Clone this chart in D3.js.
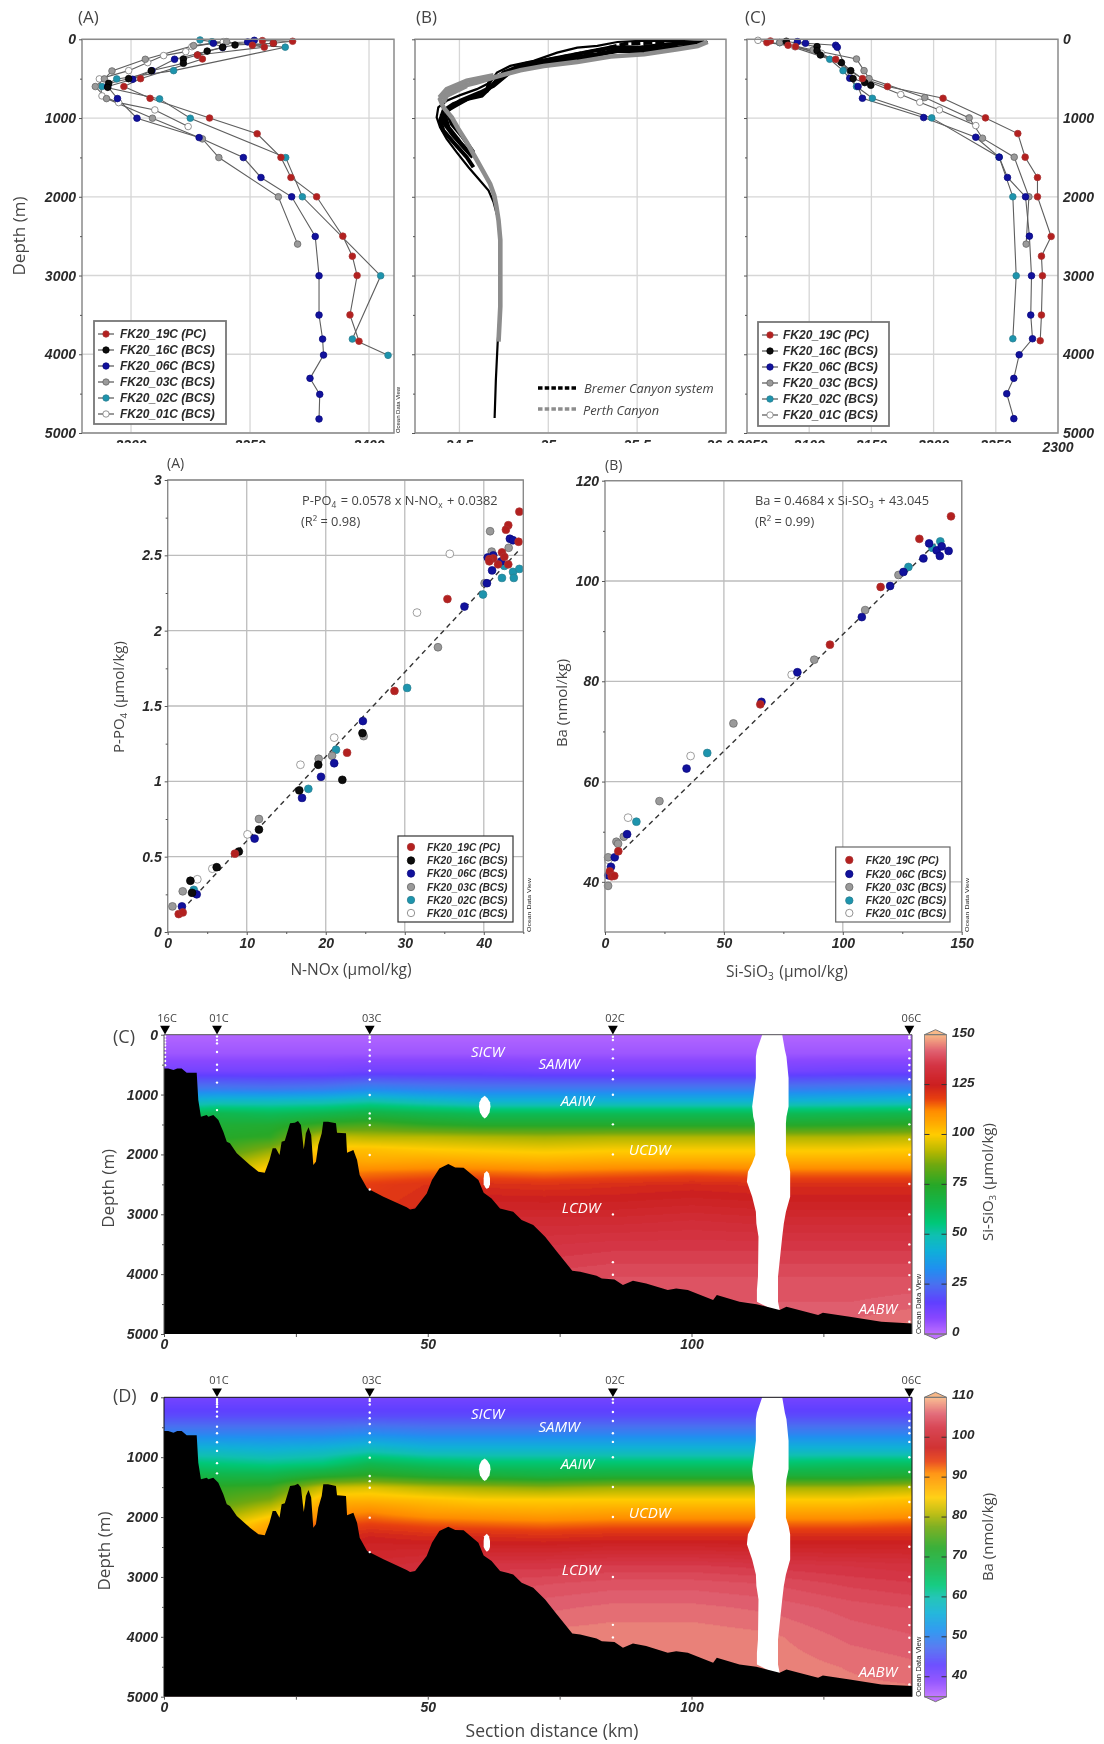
<!DOCTYPE html>
<html>
<head>
<meta charset="utf-8">
<style>
  html, body { margin: 0; padding: 0; background: #fff; }
  svg { display: block; filter: blur(0.45px); }
  .num { font-family: "Liberation Sans", Arial, sans-serif; font-weight: bold; font-style: italic; fill: #2a2a2a; }
  .lab { font-family: "Open Sans", sans-serif; fill: #444; }
  .wm { font-family: "Open Sans", sans-serif; font-style: italic; fill: #fff; font-size: 15px; }
  .odv { font-family: "Liberation Sans", Arial, sans-serif; fill: #222; }
</style>
<script src="https://cdn.jsdelivr.net/npm/d3@7"></script>
</head>
<body>
<div id="chart"></div>
<script>
// series names and colours shared by the legends
const seriesNames = ["FK20_19C (PC)", "FK20_16C (BCS)", "FK20_06C (BCS)", "FK20_03C (BCS)", "FK20_02C (BCS)", "FK20_01C (BCS)"];
const seriesFill = ["#b3201f", "#0c0c0c", "#11119c", "#9a9a9a", "#1d94ad", "#ffffff"];
const seriesEdge = ["#a33", "#000", "#0a0a80", "#666", "#2b7f90", "#777"];

// top left profile, [value, depth]
const a19C = [[2355.2,17],[2367.9,25],[2359.8,50],[2351,75],[2356,100],[2327.9,200],[2330,250],[2304,500],[2297,600],[2308,750],[2333,1000],[2353,1200],[2363,1500],[2367.2,1755],[2378,2000],[2389,2500],[2393,2755],[2395,3000],[2392,3500],[2395.8,3835]];
const a16C = [[2359.8,50],[2343.7,72],[2338.5,100],[2332,150],[2328,200],[2322,250],[2322,305],[2308.5,400],[2299,500],[2290.6,560],[2290.2,610]];
const a06C = [[2351.8,13],[2349,34],[2334.6,50],[2338.5,105],[2318.3,254],[2308.8,398],[2300.7,508],[2290.2,600],[2294.3,753],[2302.5,1002],[2328.6,1248],[2347.2,1502],[2354.6,1755],[2367.5,2000],[2377.4,2504],[2379,3003],[2379,3502],[2380.5,3807],[2380.9,4010],[2375.2,4306],[2379.3,4509],[2379,4822]];
const a03C = [[2340.2,30],[2326.3,80],[2306,254],[2292,402],[2288.8,503],[2285,600],[2289.7,753],[2309,1002],[2330,1265],[2336.9,1502],[2361.9,2000],[2370,2601]];
const a02C = [[2329,8],[2334,30],[2364.8,100],[2317.9,398],[2294,503],[2287.8,600],[2312,757],[2324.9,1002],[2365,1502],[2372,2000],[2404.9,3003],[2393,3807],[2408,4014]];
const a01C = [[2338.8,30],[2325.6,93],[2323,157],[2313.7,207],[2307,296],[2299,398],[2286.7,503],[2287.8,719],[2294.8,804],[2310,897],[2324,1108]];

// top right profile, [value, depth]
const c19C = [[2068.8,21],[2066,42],[2083,76],[2089,93],[2121.3,254],[2142.8,499],[2162.9,600],[2207.6,749],[2241.7,998],[2267.7,1197],[2273.6,1497],[2283.5,1755],[2283.5,2000],[2294.5,2504],[2286.7,2754],[2287.5,3003],[2286.7,3502],[2285.7,3828]];
const c16C = [[2081.6,25],[2106.3,93],[2106.3,144],[2109,199],[2125.9,296],[2133.4,398],[2135.3,499],[2144.6,550],[2149.5,584]];
const c06C = [[2090.5,30],[2097,50],[2121.3,76],[2122.6,101],[2132.6,495],[2139.3,600],[2142.8,749],[2192,994],[2233.9,1244],[2252.7,1497],[2259.4,1755],[2273.9,2000],[2277,2500],[2278.7,3003],[2278.1,3502],[2279.5,3803],[2268.8,4006],[2264.5,4306],[2258.8,4501],[2264.5,4818]];
const c03C = [[2076.3,42],[2103.1,135],[2138,250],[2144.1,398],[2148.1,499],[2192.9,740],[2228.6,998],[2239.3,1256],[2264.8,1497],[2276.6,2000],[2274.4,2601]];
const c02C = [[2076.3,42],[2116.5,254],[2127.2,398],[2138,600],[2150.8,749],[2198.5,998],[2252.7,1497],[2263.7,2000],[2266.4,3003],[2263.7,3803]];
const c01C = [[2058.8,13],[2088.3,93],[2109.8,178],[2144.6,516],[2173.6,702],[2188.9,799],[2204.7,897],[2233.9,1096]];

// middle profile: grey Perth Canyon, black Bremer Canyon bundle, [value, depth]
const bGray = [[35.897,34],[35.841,84],[35.728,127],[35.54,190],[35.351,219],[35.163,287],[34.975,338],[34.843,392],[34.692,485],[34.598,549],[34.485,612],[34.41,696],[34.391,760],[34.41,865],[34.457,992],[34.494,1139],[34.541,1308],[34.589,1498],[34.636,1688],[34.673,1836],[34.696,1983],[34.707,2110],[34.72,2300],[34.73,2548],[34.73,3013],[34.73,3394],[34.72,3840]];
const bGray2 = [[34.692,456],[34.541,527],[34.428,633],[34.387,739]];
const bGray3 = [[34.541,591],[34.428,717],[34.41,802]];
const bBlack1 = [[35.897,34],[35.728,21],[35.54,17],[35.389,34],[35.276,84],[35.163,105],[35.05,169],[34.918,274],[34.786,338],[34.711,422],[34.673,549],[34.598,633],[34.504,709],[34.428,781],[34.381,865],[34.372,992],[34.391,1118],[34.428,1266],[34.485,1435],[34.551,1625],[34.607,1772],[34.664,1920],[34.692,2068],[34.72,2300],[34.73,2548],[34.73,3013],[34.73,3394],[34.715,3860],[34.705,4326],[34.698,4810]];
const bBlack2 = [[35.879,42],[35.671,63],[35.521,105],[35.351,105],[35.201,169],[35.012,253],[34.862,317],[34.749,422],[34.664,633],[34.626,717],[34.541,760],[34.466,823],[34.41,907],[34.391,1034],[34.41,1160],[34.466,1308],[34.541,1498],[34.579,1625]];
const bBlack3 = [[35.822,84],[35.634,127],[35.445,105],[35.276,190],[35.106,245],[34.937,317],[34.786,414],[34.692,591],[34.617,675],[34.504,781],[34.447,865],[34.419,971],[34.438,1118],[34.504,1308],[34.57,1477]];
const bBlack4 = [[35.728,84],[35.54,148],[35.389,148],[35.201,232],[35.012,295],[34.843,359],[34.673,506],[34.654,654],[34.56,739],[34.476,844],[34.428,907],[34.457,1076],[34.513,1224],[34.579,1435]];
const bBlack5 = [[35.653,42],[35.445,51],[35.314,127],[35.163,190],[34.975,274]];
const bBlack6 = [[34.4,949],[34.41,1055],[34.466,1224],[34.532,1393],[34.575,1498]];

// scatter A, [NOx, PO4]
const s19C = [[1.39,.119],[1.9,.13],[8.5,.52],[22.7,1.19],[28.7,1.6],[35.4,2.21],[44.5,2.79],[44.4,2.59],[43.1,2.7],[42.8,2.67],[42.3,2.52],[42.6,2.49],[43.1,2.44],[41.8,2.44],[41.2,2.48],[40.7,2.475],[40.7,2.46]];
const s16C = [[2.87,.34],[3.08,.26],[6.2,.43],[9,.534],[11.55,.68],[16.65,.94],[19.05,1.11],[22.1,1.01],[24.65,1.32]];
const s06C = [[1.8,.17],[3.67,.25],[11,.62],[17,.89],[19.4,1.03],[21.07,1.12],[24.7,1.4],[37.55,2.16],[40.4,2.315],[41.05,2.4],[41.2,2.5],[40.5,2.486],[42.2,2.46],[43.3,2.61],[43.7,2.6]];
const s03C = [[.6,.17],[1.9,.27],[11.55,.75],[19.1,1.15],[20.8,1.17],[24.8,1.3],[34.2,1.89],[40.1,2.315],[40.8,2.66],[41,2.525],[43.15,2.55]];
const s02C = [[3.3,.28],[17.8,.95],[21.3,1.21],[30.3,1.62],[39.9,2.24],[42.3,2.35],[42.6,2.43],[43.7,2.39],[43.8,2.35],[44.5,2.41]];
const s01C = [[3.75,.35],[5.65,.42],[10.1,.648],[16.8,1.11],[21.07,1.29],[31.55,2.12],[35.7,2.51]];
const sFit = [[2.6,.19],[44.3,2.525]];

// scatter B, [Si, Ba]
const t19C = [[145.5,112.9],[132.2,108.4],[115.9,98.8],[94.6,87.3],[65.3,75.4],[5.6,46.1],[2,42.1],[2.8,41.1],[3.9,41.2]];
const t06C = [[65.8,75.9],[80.9,81.8],[34.3,62.6],[9.3,49.5],[4.1,44.9],[2.5,43],[119.9,99],[108,92.8],[125.5,101.8],[133.9,104.5],[136.3,107.5],[139.5,106.1],[141.6,106.9],[140.8,105],[144.5,106],[1.4,41.3]];
const t03C = [[1.3,39.2],[1.3,44.9],[4.8,48],[5.5,47.6],[7.9,49],[22.9,56.1],[54,71.6],[88,84.3],[109.4,94.2],[123.4,101.2]];
const t02C = [[13.2,52],[43,65.7],[127.6,102.8],[137.7,106.6],[141,107.9]];
const t01C = [[9.7,52.8],[36,65.1],[78.5,81.3],[1.4,44.4]];
const tFit = [[7.7,46.4],[139.5,107.7]];

// sections: field values on a depth x distance grid
const fieldKm = [0, 10, 20, 30, 39, 50, 60, 72, 85, 100, 115, 130, 142];
const fieldDepth = [0, 300, 600, 900, 1100, 1300, 1500, 1700, 1900, 2100, 2300, 2500, 2800, 3100, 3500, 4000, 4500, 5000];
const siField = [
  [2,2,2,2,2,2,2,2,2,2,2,2,2],
  [5,5,5,5,5,5,5,5,5,5,5,5,5],
  [12,12,12,12,13,13,13,12,12,12,12,13,13],
  [28,28,27,28,31,29,28,28,28,28,28,29,30],
  [43,46,46,47,50,46,43,43,43,43,43,44,45],
  [58,64,62,64,67,64,62,62,62,62,62,63,64],
  [68,71,72,78,80,76,74,74,74,74,74,75,76],
  [72,74,76,94,92,92,91,90,91,91,91,91,92],
  [76,78,87,102,102,100,99,98,99,99,99,99,100],
  [84,86,96,108,106,107,106,105,106,106,106,106,106],
  [90,92,104,112,114,115,115,114,115,116,115,115,115],
  [98,100,110,116,119,121,122,121,122,123,122,122,122],
  [110,112,116,118,120,122,126,126,126,127,126,126,126],
  [118,118,120,122,124,126,130,130,130,131,130,130,130],
  [125,125,126,127,128,130,133,134,135,135,135,135,135],
  [130,130,130,130,132,134,136,138,139,139,139,139,139],
  [132,132,132,132,134,136,138,140,141,141,141,141,142],
  [134,134,134,134,136,138,140,142,143,144,144,144,146]
];
const baField = [
  [41,41,41,41,41,41,41,41,41,41,41,41,41],
  [44,44,44,44,44,44,44,44,44,44,44,44,44],
  [50,50,50,50,51,50,50,50,50,50,50,50,50],
  [58,58,57,58,60,58,58,58,58,58,58,58,58],
  [64,63,62,63,67,65,64,64,64,64,64,65,65],
  [69,68,68,71,73,71,70,69,70,70,70,70,71],
  [72,73,74,82,83,81,80,79,80,80,80,80,81],
  [74,75,78,87,87,86,85,85,85,85,85,85,86],
  [76,78,83,90,91,89,88.5,88,88.5,88.5,88.5,88.5,89],
  [80,82,88,93,94,93,92.5,92,92.5,92.5,92.5,92.5,93],
  [86,88,90,95,97,96,96,95.5,96,96,96,96,96],
  [92,94,94,97,98.5,98.5,98.5,98.5,99,99,98.5,98.5,98.5],
  [98,98,98,99,100,101,102.5,102.5,103,103,102.5,102,101.5],
  [101,101,101,101,102,103,104,104.5,105,105,104.5,103.5,103],
  [103,103,103,103,104,105,105.5,106,106.5,106.5,106,105,104.5],
  [105,105,105,105,106,106.5,107,107.5,107.7,107.7,107.3,106,105.5],
  [106,106,106,106,106.5,107,107.5,107.7,107.8,107.8,107.7,107,106.5],
  [106,106,106,106,106.5,107,107.5,107.7,107.8,107.8,107.7,107.5,107.5]
];

// seafloor under both sections, distance km and depth m
const bottomKm = [0,.8,1.8,2.5,3.35,4.3,6.2,6.5,7,8.1,8.4,9.35,10.3,11.25,11.9,12.5,13.8,16.3,17.9,19.1,20,20.6,21.2,21.9,22.3,22.9,23.9,24.8,25.4,25.96,26.5,26.9,27.4,27.9,28.3,28.8,29.25,29.9,30.2,31.1,32.6,32.8,34.5,34.7,35.9,36.6,37.1,38.5,41.6,46,46.65,47.6,49.8,50.8,52.2,53.9,55.2,56.8,59.6,60.6,62.1,63.7,66.2,67.8,70,72.25,74.5,77.4,78.9,82,83,85.4,87,88.9,91.4,95.5,97.1,99.3,104.1,104.8,109.1,112.3,116.7,118,124,124.9,130,136,141.8];
const bottomDepth = [563,563,590,563,563,635,635,1092,1370,1342,1370,1342,1426,1621,1788,1815,1982,2177,2288,2305,2093,1898,1898,2010,1787,1770,1480,1470,1442,1508,1915,1647,1547,1675,2177,2122,1843,1647,1453,1453,1480,1637,1647,1971,1926,2093,2344,2566,2706,2883,2919,2902,2651,2429,2234,2161,2217,2222,2429,2640,2735,2902,2958,3097,3180,3375,3626,3944,3960,4027,4072,4088,4183,4111,4155,4267,4239,4267,4434,4350,4462,4501,4601,4545,4684,4645,4712,4796,4823];

// no-data gaps in the interpolated field
const gapDepth = [0,256,367,725,1003,1198,1370,1481,2010,2150,2289,2456,2707,2958,3153,3375,4044,4267,4462,4640];
const gapLeft = [113.4,112.4,112.2,112.2,111.8,111.5,111.7,112,112.1,111.5,110.7,110.5,111.5,112.2,112.3,112.7,112.6,112.4,112.4,116.4];
const gapRight = [117.2,117.7,118,118.4,118.4,118.4,118,117.9,117.9,118.4,118.7,118.7,118.7,117.9,117.5,117.2,116.4,116.4,116.4,116.8];
const blobADepth = [1020,1060,1130,1200,1300,1370,1398];
const blobALeft = [60.8,60.2,59.8,59.7,59.9,60.4,60.8];
const blobARight = [60.8,61.3,61.8,61.9,61.7,61.2,60.8];
const blobBDepth = [2278,2320,2400,2500,2550,2579];
const blobBLeft = [61.2,60.7,60.6,60.6,60.9,61.2];
const blobBRight = [61.2,61.6,61.8,61.8,61.6,61.2];

// station sampling depths
const stationNames = ["16C", "01C", "03C", "02C", "06C"];
const stationKm = [0.2, 10.05, 39, 85.1, 141.3];
const st16C = [30,80,130,180,240,300,370,440,510];
const st01C = [30,90,145,290,500,590,800,1260];
const st01CBa = [30,60,90,120,160,240,320,490,600,750,895,1100,1270];
const st03C = [30,60,120,255,350,445,600,750,1008,1315,1400,1510,2010,2585];
const st02C = [33,89,245,395,600,745,1002,1498,2000,3002,3800,4010];
const st06C = [30,60,255,395,505,600,745,1002,1248,1498,1749,2005,2495,3002,3503,3804,4016,4255,4500,4795];

// water mass labels, distance km and depth m
const waterNames = ["SICW", "SAMW", "AAIW", "UCDW", "LCDW", "AABW"];
const waterKm = [58.2, 71, 75.2, 88.1, 75.4, 131.7];
const waterDepth = [367, 573, 1191, 2015, 2974, 4666];

// colour map, position along the colour bar (0-1) and colour
const cmapPos = [0,.053,.107,.167,.22,.28,.333,.373,.427,.5,.567,.613,.667,.707,.747,.787,.833,.9,.947,1];
const cmapCol = ["#c070ff","#8a48ff","#6040ff","#4a70f0","#2090f0","#10b0d8","#10c0b0","#00c878","#10b850","#28a828","#70a810","#b8b800","#ffcc00","#ffaa00","#ff8c00","#e84010","#cc2020","#d43545","#e06070","#f8b888"];

const depthTicks = [0, 1000, 2000, 3000, 4000, 5000];
const depthMinor = [500, 1500, 2500, 3500, 4500];

const svg = d3.select("#chart").append("svg").attr("width", 1104).attr("height", 1744);
const cmap = d3.scaleLinear().domain(cmapPos).range(cmapCol).interpolate(d3.interpolateRgb);

function text(cls, x, y, str, size, rotate) {
  const t = svg.append("text").attr("class", cls).attr("font-size", size).text(str);
  if (rotate) t.attr("transform", `translate(${x},${y}) rotate(-90)`).attr("text-anchor", "middle");
  else t.attr("x", x).attr("y", y);
  return t;
}

// label with a subscript part, e.g. P-PO4
function subText(cls, x, y, parts, size, rotate) {
  const t = svg.append("text").attr("class", cls).attr("font-size", size);
  if (rotate) t.attr("transform", `translate(${x},${y}) rotate(-90)`).attr("text-anchor", "middle");
  else t.attr("x", x).attr("y", y);
  parts.forEach(function (p) {
    if (p.sub) {
      t.append("tspan").attr("font-size", size * 0.65).attr("dy", size * 0.2).text(p.sub);
      t.append("tspan").attr("dy", -size * 0.2).text("\u200a");
    } else {
      t.append("tspan").text(p.t);
    }
  });
  return t;
}

function odv(x, y, size, len) {
  text("odv", x, y, "Ocean Data View", size, true).attr("textLength", len).attr("lengthAdjust", "spacingAndGlyphs");
}

function frameGrid(x, y, xTicks, yTicks, gridCol) {
  const g = svg.append("g");
  g.selectAll(".gx").data(xTicks).join("line")
    .attr("x1", d => x(d)).attr("x2", d => x(d))
    .attr("y1", y.range()[0]).attr("y2", y.range()[1])
    .attr("stroke", gridCol).attr("stroke-width", 1.3);
  g.selectAll(".gy").data(yTicks).join("line")
    .attr("x1", x.range()[0]).attr("x2", x.range()[1])
    .attr("y1", d => y(d)).attr("y2", d => y(d))
    .attr("stroke", gridCol).attr("stroke-width", 1.3);
}

function frameBox(x, y, col, w) {
  svg.append("rect")
    .attr("x", x.range()[0]).attr("width", x.range()[1] - x.range()[0])
    .attr("y", Math.min(y.range()[0], y.range()[1])).attr("height", Math.abs(y.range()[1] - y.range()[0]))
    .attr("fill", "none").attr("stroke", col).attr("stroke-width", w);
}

function styleAxis(g, size) {
  g.select(".domain").remove();
  g.selectAll(".tick line").attr("stroke", "#555");
  g.selectAll(".tick text").attr("class", "num").attr("font-size", size).attr("fill", null);
  return g;
}

function legendBox(x0, y0, w, h, rows, rowYs, markerX, textX, lineHalf, size, edge) {
  svg.append("rect").attr("x", x0).attr("y", y0).attr("width", w).attr("height", h)
    .attr("fill", "#fff").attr("stroke", edge).attr("stroke-width", lineHalf ? 1.8 : 1.2);
  rows.forEach(function (r, i) {
    if (lineHalf) {
      svg.append("line").attr("x1", markerX - lineHalf).attr("x2", markerX + lineHalf)
        .attr("y1", rowYs[i]).attr("y2", rowYs[i]).attr("stroke", "#555").attr("stroke-width", 1.2);
    }
    svg.append("circle").attr("cx", markerX).attr("cy", rowYs[i]).attr("r", lineHalf ? 3.2 : 3.7)
      .attr("fill", seriesFill[r]).attr("stroke", seriesEdge[r]).attr("stroke-width", 0.8);
    text("num", textX, rowYs[i] + size * 0.36, seriesNames[r], size).attr("fill", "#333");
  });
}

svg.append("clipPath").attr("id", "cutLabels").append("rect")
  .attr("x", 0).attr("width", 1104).attr("y", 434).attr("height", 9);

// one depth profile panel, lines and dots
function profilePanel(x, y, series, xTicks, xLabels, rightAxis, cutLast) {
  frameGrid(x, y, xTicks, depthTicks, "#d6d6d6");
  const x0 = x.range()[0], x1 = x.range()[1];
  const lineGen = d3.line().x(d => x(d[0])).y(d => y(d[1]));

  // draw last series first so red sits on top
  d3.range(series.length - 1, -1, -1).forEach(function (i) {
    svg.append("path").datum(series[i]).attr("d", lineGen).attr("fill", "none").attr("stroke", "#5e5e5e").attr("stroke-width", 1.1);
  });
  d3.range(series.length - 1, -1, -1).forEach(function (i) {
    svg.append("g").selectAll("circle").data(series[i]).join("circle")
      .attr("cx", d => x(d[0])).attr("cy", d => y(d[1])).attr("r", 3.3)
      .attr("fill", seriesFill[i]).attr("stroke", seriesEdge[i]).attr("stroke-width", 0.8);
  });
  frameBox(x, y, "#8a8a8a", 1.5);
  depthAxes(x0, x1, y, rightAxis);
  xCutLabels(x, xLabels, cutLast);
}

function depthAxes(x0, x1, y, rightAxis) {
  const major = svg.append("g").attr("transform", `translate(${x0},0)`)
    .call(d3.axisLeft(y).tickValues(depthTicks).tickSize(3).tickPadding(3).tickFormat(rightAxis === false ? d => d : ""));
  styleAxis(major, 14);
  svg.append("g").attr("transform", `translate(${x0},0)`)
    .call(d3.axisLeft(y).tickValues(depthMinor).tickSize(2).tickFormat(""))
    .call(g => styleAxis(g, 14));
  if (rightAxis) {
    const r = svg.append("g").attr("transform", `translate(${x1},0)`)
      .call(d3.axisRight(y).tickValues(depthTicks).tickSize(0).tickPadding(5).tickFormat(d => d));
    styleAxis(r, 14);
  }
}

// the x labels of the top row are cut off by the row below in the source
function xCutLabels(x, labels, cutLast) {
  labels.forEach(function (l, i) {
    const last = i === labels.length - 1;
    const t = text("num", x(l.v) + (l.dx || 0), cutLast && last ? 452 : 450, l.s, 14).attr("text-anchor", "middle");
    if (!(cutLast && last)) t.attr("clip-path", "url(#cutLabels)");
  });
}

const yA = d3.scaleLinear().domain([0, 5000]).range([39.3, 433]);

// panel A
const xA = d3.scaleLinear().domain([2279.4, 2410.5]).range([82, 394]);
profilePanel(xA, yA, [a19C, a16C, a06C, a03C, a02C, a01C], [2300, 2350, 2400],
  [{ v: 2300, s: "2300" }, { v: 2350, s: "2350" }, { v: 2400, s: "2400" }], false, false);
legendBox(94, 321, 132, 103, [0, 1, 2, 3, 4, 5], [334, 350, 366, 382, 398, 414], 106, 120, 8, 12, "#777");
text("lab", 78, 23, "(A)", 17);
text("lab", 25, 236, "Depth (m)", 17, true);
odv(400, 410, 5, 46);

// panel B: black bundle then a thick grey profile
const xB = d3.scaleLinear().domain([34.25, 36]).range([415, 726]);
frameGrid(xB, yA, [34.5, 35, 35.5], depthTicks, "#d6d6d6");
const lineB = d3.line().x(d => xB(d[0])).y(d => yA(d[1]));
[bBlack2, bBlack3, bBlack4, bBlack5, bBlack6].forEach(function (s, i) {
  svg.append("path").datum(s).attr("d", lineB).attr("fill", "none").attr("stroke", "#000")
    .attr("stroke-width", 4).attr("stroke-dasharray", i === 3 ? "9 3" : null);
});
svg.append("path").datum(bBlack1).attr("d", lineB).attr("fill", "none").attr("stroke", "#000").attr("stroke-width", 2.2);
[bGray, bGray2, bGray3].forEach(function (s) {
  svg.append("path").datum(s).attr("d", lineB).attr("fill", "none").attr("stroke", "#8d8d8d").attr("stroke-width", 4.6);
});
frameBox(xB, yA, "#8a8a8a", 1.5);
depthAxes(415, 726, yA, null);
xCutLabels(xB, [{ v: 34.5, s: "34.5" }, { v: 35, s: "35" }, { v: 35.5, s: "35.5" }, { v: 36, s: "36.0", dx: -6 }], false);
svg.append("line").attr("x1", 538).attr("x2", 578).attr("y1", 388).attr("y2", 388)
  .attr("stroke", "#000").attr("stroke-width", 3.5).attr("stroke-dasharray", "4.5 2.2");
svg.append("line").attr("x1", 538).attr("x2", 578).attr("y1", 409).attr("y2", 409)
  .attr("stroke", "#8d8d8d").attr("stroke-width", 3.5).attr("stroke-dasharray", "4.5 2.2");
text("lab", 584, 392.5, "Bremer Canyon system", 12.8).style("font-style", "italic");
text("lab", 583, 414.5, "Perth Canyon", 12.8).style("font-style", "italic");
text("lab", 416, 23, "(B)", 17);

// panel C
const xC = d3.scaleLinear().domain([2050, 2300]).range([747, 1058]);
profilePanel(xC, yA, [c19C, c16C, c06C, c03C, c02C, c01C], [2100, 2150, 2200, 2250],
  [{ v: 2050, s: "2050", dx: 5 }, { v: 2100, s: "2100" }, { v: 2150, s: "2150" }, { v: 2200, s: "2200" }, { v: 2250, s: "2250" }, { v: 2300, s: "2300" }], true, true);
legendBox(758, 322, 131, 104, [0, 1, 2, 3, 4, 5], [335, 351, 367, 383, 399, 415], 770, 783, 8, 12, "#777");
text("lab", 745, 23, "(C)", 17);

// one scatter panel
function scatterPanel(x, y, series, ids, fit, xTicks, xMinor, yTicks, yMinor) {
  frameGrid(x, y, xTicks, yTicks, "#bdbdbd");
  svg.append("line")
    .attr("x1", x(fit[0][0])).attr("y1", y(fit[0][1]))
    .attr("x2", x(fit[1][0])).attr("y2", y(fit[1][1]))
    .attr("stroke", "#333").attr("stroke-width", 1.4).attr("stroke-dasharray", "5 4");
  d3.range(series.length - 1, -1, -1).forEach(function (i) {
    svg.append("g").selectAll("circle").data(series[i]).join("circle")
      .attr("cx", d => x(d[0])).attr("cy", d => y(d[1])).attr("r", 3.9)
      .attr("fill", seriesFill[ids[i]]).attr("stroke", seriesEdge[ids[i]]).attr("stroke-width", 0.7);
  });
  frameBox(x, y, "#8a8a8a", 1.4);
  const bottom = y.range()[0], left = x.range()[0];
  styleAxis(svg.append("g").attr("transform", `translate(0,${bottom})`)
    .call(d3.axisBottom(x).tickValues(xTicks.concat(x.domain()[0])).tickSize(3).tickPadding(3).tickFormat(d => d)), 14);
  styleAxis(svg.append("g").attr("transform", `translate(0,${bottom})`)
    .call(d3.axisBottom(x).tickValues(xMinor).tickSize(2).tickFormat("")), 14);
  styleAxis(svg.append("g").attr("transform", `translate(${left},0)`)
    .call(d3.axisLeft(y).tickValues(yTicks).tickSize(3).tickPadding(3).tickFormat(d => d)), 14);
  styleAxis(svg.append("g").attr("transform", `translate(${left},0)`)
    .call(d3.axisLeft(y).tickValues(yMinor).tickSize(2).tickFormat("")), 14);
}

const xSA = d3.scaleLinear().domain([0, 45]).range([167.7, 523.3]);
const ySA = d3.scaleLinear().domain([0, 3]).range([932, 480]);
scatterPanel(xSA, ySA, [s19C, s16C, s06C, s03C, s02C, s01C], [0, 1, 2, 3, 4, 5], sFit,
  [10, 20, 30, 40], [5, 15, 25, 35, 45], [0, 0.5, 1, 1.5, 2, 2.5, 3], [0.25, 0.75, 1.25, 1.75, 2.25, 2.75]);
legendBox(398, 836, 115, 86, [0, 1, 2, 3, 4, 5], [847, 860.5, 873.5, 887, 900, 913], 411, 427, 0, 10.2, "#333");
text("lab", 167, 468, "(A)", 14);
subText("lab", 302, 505, [{ t: "P-PO" }, { sub: "4" }, { t: " = 0.0578 x N-NO" }, { sub: "x" }, { t: " + 0.0382" }], 12.8);
text("lab", 301, 526, "(R\u00b2 = 0.98)", 12.8);
text("lab", 351, 975, "N-NOx (\u00b5mol/kg)", 15.5).attr("text-anchor", "middle");
subText("lab", 124, 697, [{ t: "P-PO" }, { sub: "4" }, { t: " (\u00b5mol/kg)" }], 15, true);
odv(531, 905, 4.5, 54);

const xSB = d3.scaleLinear().domain([0, 150]).range([605, 961.7]);
const ySB = d3.scaleLinear().domain([30, 120]).range([932, 480.7]);
scatterPanel(xSB, ySB, [t19C, t06C, t03C, t02C, t01C], [0, 2, 3, 4, 5], tFit,
  [50, 100, 150], [25, 75, 125], [40, 60, 80, 100, 120], [50, 70, 90, 110]);
legendBox(835.7, 847, 114.3, 75, [0, 2, 3, 4, 5], [860, 874, 887, 900.5, 913], 849.3, 865.7, 0, 10.2, "#666");
text("lab", 605, 470, "(B)", 14);
subText("lab", 755, 505, [{ t: "Ba = 0.4684 x Si-SO" }, { sub: "3" }, { t: " + 43.045" }], 12.8);
text("lab", 755, 526, "(R\u00b2 = 0.99)", 12.8);
subText("lab", 787, 977, [{ t: "Si-SiO" }, { sub: "3" }, { t: " (\u00b5mol/kg)" }], 15.5).attr("text-anchor", "middle");
text("lab", 567, 703, "Ba (nmol/kg)", 15, true);
odv(969, 905, 4.5, 54);

// section panel: field drawn to a canvas, then seafloor and gaps on top
function sectionPanel(top, bottom, field, vMin, vMax, stations, barTicks, barTitle, label, labelY, depthX, rightEdge) {
  const x = d3.scaleLinear().domain([0, 141.8]).range([164, 912]);
  const y = d3.scaleLinear().domain([0, 5000]).range([top, bottom]);
  const w = 748, h = Math.round(bottom - top);
  const canvas = document.createElement("canvas");
  canvas.width = w;
  canvas.height = h;
  const ctx = canvas.getContext("2d");
  const colIndex = d3.scaleLinear().domain(fieldKm).range(d3.range(fieldKm.length)).clamp(true);
  const rowIndex = d3.scaleLinear().domain(fieldDepth).range(d3.range(fieldDepth.length)).clamp(true);
  const tColour = d3.scaleLinear().domain([vMin, vMax]).range([0, 1]).clamp(true);
  for (let py = 0; py < h; py++) {
    const rf = rowIndex(y.invert(top + py));
    const r0 = Math.min(Math.floor(rf), fieldDepth.length - 2), fr = rf - r0;
    for (let px = 0; px < w; px++) {
      const cf = colIndex(x.invert(164 + px));
      const c0 = Math.min(Math.floor(cf), fieldKm.length - 2), fc = cf - c0;
      const v = (field[r0][c0] * (1 - fc) + field[r0][c0 + 1] * fc) * (1 - fr)
        + (field[r0 + 1][c0] * (1 - fc) + field[r0 + 1][c0 + 1] * fc) * fr;
      // ODV shows steps in the slow end of the colour bar
      let t = tColour(v);
      if (t > 0.8) t = Math.round(t * 90) / 90;
      ctx.fillStyle = cmap(t);
      ctx.fillRect(px, py, 1, 1);
    }
  }
  svg.append("image").attr("x", 164).attr("y", top).attr("width", w).attr("height", h)
    .attr("href", canvas.toDataURL());

  const gapArea = d3.area().y(d => y(d[0])).x0(d => x(d[1])).x1(d => x(d[2]));
  [[gapDepth, gapLeft, gapRight], [blobADepth, blobALeft, blobARight], [blobBDepth, blobBLeft, blobBRight]].forEach(function (g) {
    svg.append("path").datum(g[0].map((d, i) => [d, g[1][i], g[2][i]])).attr("d", gapArea).attr("fill", "#fff");
  });

  const bottomArea = d3.area().x((d, i) => x(bottomKm[i])).y0(y(5000)).y1(d => y(d));
  svg.append("path").datum(bottomDepth).attr("d", bottomArea).attr("fill", "#000");

  // sampling dots and station triangles
  stations.forEach(function (s) {
    svg.append("g").selectAll("circle").data(s.depths).join("circle")
      .attr("cx", x(s.km)).attr("cy", d => y(d)).attr("r", 1.2).attr("fill", "#fff");
    svg.append("path").attr("d", d3.symbol(d3.symbolTriangle, 42))
      .attr("transform", `translate(${x(s.km)},${top - 6}) rotate(180)`).attr("fill", "#000");
    text("lab", x(s.km) + 2, top - 13, s.name, 11).attr("text-anchor", "middle").attr("fill", "#333");
  });

  waterNames.forEach(function (n, i) {
    text("wm", x(waterKm[i]), y(waterDepth[i]), n, 15);
  });

  svg.append("path").attr("d", `M164,${bottom}V${top}H912V${bottom}`).attr("fill", "none").attr("stroke", rightEdge).attr("stroke-width", 1);
  styleAxis(svg.append("g").attr("transform", `translate(0,${bottom})`)
    .call(d3.axisBottom(x).tickValues([0, 50, 100]).tickSize(3).tickPadding(2).tickFormat(d => d)), 14);
  styleAxis(svg.append("g").attr("transform", `translate(0,${bottom})`)
    .call(d3.axisBottom(x).tickValues([25, 75, 125]).tickSize(3).tickFormat("")), 14);
  styleAxis(svg.append("g").attr("transform", "translate(164,0)")
    .call(d3.axisLeft(y).tickValues(depthTicks).tickSize(3).tickPadding(3).tickFormat(d => d)), 14);
  styleAxis(svg.append("g").attr("transform", "translate(164,0)")
    .call(d3.axisLeft(y).tickValues(depthMinor).tickSize(2).tickFormat("")), 14);

  text("lab", 113, labelY, label, 18);
  text("lab", depthX, (top + bottom) / 2 + 4, "Depth (m)", 17, true);
  odv(921, bottom - 30, 6.5, 60);

  // colour bar with arrow ends
  const bx0 = 924.5, bx1 = 946.5;
  const barY = d3.scaleLinear().domain([vMin, vMax]).range([bottom, top]);
  svg.append("g").selectAll("rect").data(d3.range(top, bottom, 1)).join("rect")
    .attr("x", bx0).attr("width", bx1 - bx0).attr("y", d => d).attr("height", 1.4)
    .attr("fill", d => cmap(tColour(barY.invert(d))));
  const barEnd = d3.line();
  svg.append("path").attr("d", barEnd([[bx0, top], [bx0 + 11, top - 5], [bx1, top]]) + "Z").attr("fill", cmap(1)).attr("stroke", "#777");
  svg.append("path").attr("d", barEnd([[bx0, bottom], [bx0 + 11, bottom + 5], [bx1, bottom]]) + "Z").attr("fill", cmap(0)).attr("stroke", "#777");
  svg.append("rect").attr("x", bx0).attr("y", top).attr("width", bx1 - bx0).attr("height", bottom - top)
    .attr("fill", "none").attr("stroke", "#777").attr("stroke-width", 0.8);
  barTicks.forEach(function (v) {
    if (v > vMin && v < vMax) {
      svg.append("line").attr("x1", bx0).attr("x2", bx0 + 5).attr("y1", barY(v)).attr("y2", barY(v)).attr("stroke", "#333");
      svg.append("line").attr("x1", bx1 - 5).attr("x2", bx1).attr("y1", barY(v)).attr("y2", barY(v)).attr("stroke", "#333");
    }
    text("num", 952, barY(v) + 2, String(v), 13.5);
  });
  barTitle();
}

sectionPanel(1034.7, 1334, siField, 0, 150, [
  { name: stationNames[0], km: stationKm[0], depths: st16C },
  { name: stationNames[1], km: stationKm[1], depths: st01C },
  { name: stationNames[2], km: stationKm[2], depths: st03C },
  { name: stationNames[3], km: stationKm[3], depths: st02C },
  { name: stationNames[4], km: stationKm[4], depths: st06C }
], [150, 125, 100, 75, 50, 25, 0], function () {
  subText("lab", 993, 1182, [{ t: "Si-SiO" }, { sub: "3" }, { t: " (\u00b5mol/kg)" }], 15, true);
}, "(C)", 1043, 114, "#555");

sectionPanel(1397.3, 1696.7, baField, 35, 110, [
  { name: stationNames[1], km: stationKm[1], depths: st01CBa },
  { name: stationNames[2], km: stationKm[2], depths: st03C },
  { name: stationNames[3], km: stationKm[3], depths: st02C },
  { name: stationNames[4], km: stationKm[4], depths: st06C }
], [110, 100, 90, 80, 70, 60, 50, 40], function () {
  text("lab", 993, 1537, "Ba (nmol/kg)", 15, true);
}, "(D)", 1402, 110, "#111");

text("lab", 552, 1737, "Section distance (km)", 17.5).attr("text-anchor", "middle");
</script>
</body>
</html>
